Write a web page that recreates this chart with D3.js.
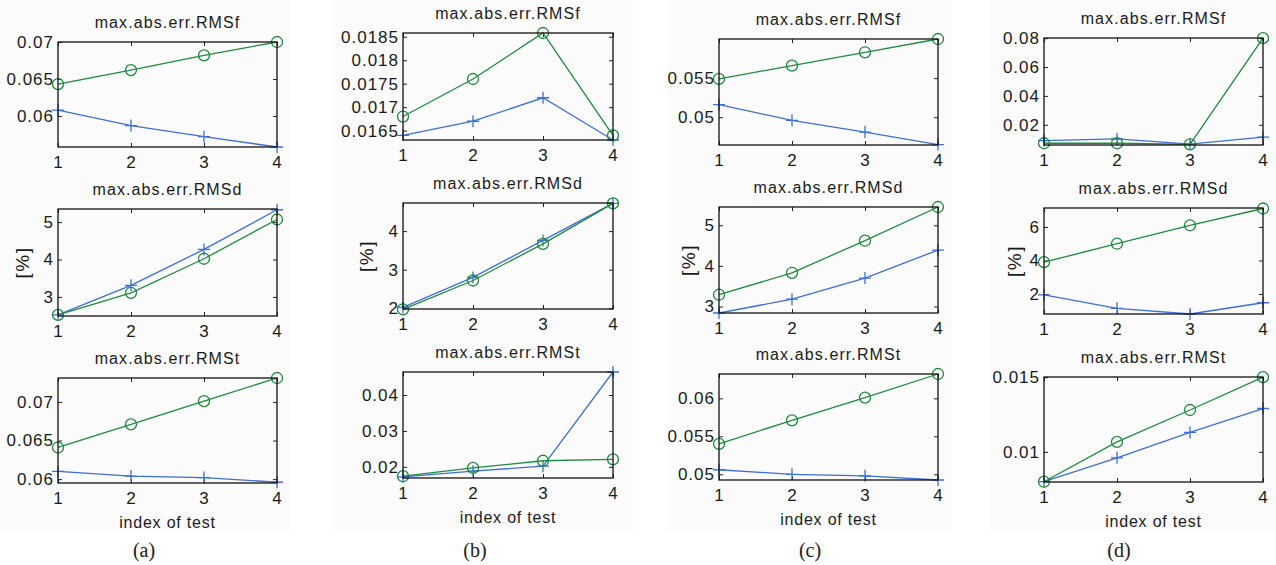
<!DOCTYPE html>
<html>
<head>
<meta charset="utf-8">
<script src="https://cdn.jsdelivr.net/npm/d3@7"></script>
<style>
  body { margin: 0; background: #fff; }
  text { font-family: "Liberation Sans", Arial, sans-serif; fill: #1a1a1a; }
</style>
</head>
<body>
<svg id="chart" width="1276" height="565"></svg>
<script>
// ---- data ----
const testIndex = [1, 2, 3, 4];
const captions = ["(a)", "(b)", "(c)", "(d)"];
const rowTitles = ["max.abs.err.RMSf", "max.abs.err.RMSd", "max.abs.err.RMSt"];
const rowYLabels = ["", "[%]", ""];

// blue "+" series and green "o" series, one row per subplot (RMSf, RMSd, RMSt)
const aBlue  = [[0.0608, 0.0587, 0.0572, 0.0558], [2.52, 3.31, 4.27, 5.33], [0.0610, 0.0604, 0.0602, 0.0596]];
const aGreen = [[0.0643, 0.0662, 0.0682, 0.0700], [2.52, 3.11, 4.02, 5.07], [0.0641, 0.0671, 0.0701, 0.0731]];
const bBlue  = [[0.0164, 0.0167, 0.0172, 0.0163], [2.02, 2.80, 3.76, 4.72], [0.0172, 0.0188, 0.0202, 0.0464]];
const bGreen = [[0.0168, 0.0176, 0.01858, 0.0164], [1.97, 2.72, 3.67, 4.72], [0.0174, 0.0197, 0.0217, 0.0221]];
const cBlue  = [[0.0516, 0.0496, 0.0481, 0.0465], [2.84, 3.18, 3.70, 4.39], [0.0506, 0.0500, 0.0498, 0.04925]];
const cGreen = [[0.0549, 0.0566, 0.0583, 0.0600], [3.29, 3.83, 4.62, 5.45], [0.0540, 0.0571, 0.0601, 0.0632]];
const dBlue  = [[0.0090, 0.0103, 0.0066, 0.0114], [1.95, 1.15, 0.81, 1.48], [0.0080, 0.0096, 0.0113, 0.0129]];
const dGreen = [[0.0072, 0.0072, 0.0065, 0.0800], [3.9, 5.0, 6.1, 7.1], [0.0080, 0.01067, 0.0128, 0.0150]];

// y tick labels per subplot
const aTicks = [["0.06", "0.065", "0.07"], ["3", "4", "5"], ["0.06", "0.065", "0.07"]];
const bTicks = [["0.0165", "0.017", "0.0175", "0.018", "0.0185"], ["2", "3", "4"], ["0.02", "0.03", "0.04"]];
const cTicks = [["0.05", "0.055"], ["3", "4", "5"], ["0.05", "0.055", "0.06"]];
const dTicks = [["0.02", "0.04", "0.06", "0.08"], ["2", "4", "6"], ["0.01", "0.015"]];

// y axis limits per subplot
const aLimits = [[0.0558, 0.0700], [2.49, 5.35], [0.0595, 0.0731]];
const bLimits = [[0.0163, 0.01858], [1.98, 4.73], [0.0169, 0.0464]];
const cLimits = [[0.04645, 0.0600], [2.84, 5.45], [0.04925, 0.0632]];
const dLimits = [[0.006, 0.0801], [0.81, 7.13], [0.00798, 0.01501]];

// ---- layout ----
const colBoxes = [[58, 277], [403, 613], [719, 938], [1044, 1263]];
const rowBoxes = [
  [[42, 147], [209, 316], [378, 483]],
  [[33, 140], [203, 309], [372, 478]],
  [[39, 145], [207, 313], [374, 480]],
  [[38, 145], [208, 314], [377, 482]]
];
const yLabelX = [22, 366, 688, 1014];
const captionX = [144, 475, 810, 1119];
const panelBg = [[0, 290], [333, 633], [668, 952], [990, 1276]];

const blue = "#3d6fd6";
const green = "#1f8a3d";

const columns = [
  { blue: aBlue, green: aGreen, ticks: aTicks, limits: aLimits },
  { blue: bBlue, green: bGreen, ticks: bTicks, limits: bLimits },
  { blue: cBlue, green: cGreen, ticks: cTicks, limits: cLimits },
  { blue: dBlue, green: dGreen, ticks: dTicks, limits: dLimits }
];

const svg = d3.select("#chart");

// very light panel backgrounds behind each column
svg.selectAll("rect.bg")
  .data(panelBg)
  .enter()
  .append("rect")
  .attr("x", d => d[0])
  .attr("y", 0)
  .attr("width", d => d[1] - d[0])
  .attr("height", 532)
  .attr("fill", "#fbfbfb");

columns.forEach((col, ci) => {
  const [left, right] = colBoxes[ci];

  rowTitles.forEach((title, ri) => {
    const [top, bottom] = rowBoxes[ci][ri];
    const g = svg.append("g");

    const x = d3.scaleLinear().domain([1, 4]).range([left, right]);
    const y = d3.scaleLinear().domain(col.limits[ri]).range([bottom, top]);
    const tickVals = col.ticks[ri].map(Number);

    // axes with inward ticks on all four sides
    g.append("g")
      .attr("transform", "translate(0," + bottom + ")")
      .call(d3.axisBottom(x).tickValues(testIndex).tickSize(-4).tickPadding(9).tickFormat(d3.format("d")));
    g.append("g")
      .attr("transform", "translate(0," + top + ")")
      .call(d3.axisTop(x).tickValues(testIndex).tickSize(-4).tickFormat(""));
    g.append("g")
      .attr("transform", "translate(" + left + ",0)")
      .call(d3.axisLeft(y).tickValues(tickVals).tickSize(-4).tickPadding(4)
        .tickFormat((d, i) => col.ticks[ri][i]));
    g.append("g")
      .attr("transform", "translate(" + right + ",0)")
      .call(d3.axisRight(y).tickValues(tickVals).tickSize(-4).tickFormat(""));

    g.selectAll(".domain").remove();
    g.selectAll(".tick line").attr("stroke", "#222");
    g.selectAll(".tick text")
      .style("font-family", "'Liberation Sans', Arial, sans-serif")
      .style("font-size", "17px")
      .style("letter-spacing", "1px")
      .attr("fill", "#1a1a1a");

    // series: blue "+" first, then green "o"
    const line = d3.line().x((d, i) => x(testIndex[i])).y(d => y(d));

    g.append("path")
      .datum(col.blue[ri])
      .attr("d", line)
      .attr("fill", "none")
      .attr("stroke", blue)
      .attr("stroke-width", 1.3);

    g.selectAll("path.plus")
      .data(col.blue[ri])
      .enter()
      .append("path")
      .attr("class", "plus")
      .attr("transform", (d, i) => "translate(" + x(testIndex[i]) + "," + y(d) + ")")
      .attr("d", "M-6,0H6M0,-6V6")
      .attr("stroke", blue)
      .attr("stroke-width", 1.3);

    g.append("path")
      .datum(col.green[ri])
      .attr("d", line)
      .attr("fill", "none")
      .attr("stroke", green)
      .attr("stroke-width", 1.3);

    g.selectAll("circle.ring")
      .data(col.green[ri])
      .enter()
      .append("circle")
      .attr("class", "ring")
      .attr("cx", (d, i) => x(testIndex[i]))
      .attr("cy", d => y(d))
      .attr("r", 5.5)
      .attr("fill", "none")
      .attr("stroke", green)
      .attr("stroke-width", 1.3);

    // axes box
    g.append("rect")
      .attr("x", left)
      .attr("y", top)
      .attr("width", right - left)
      .attr("height", bottom - top)
      .attr("fill", "none")
      .attr("stroke", "#111")
      .attr("stroke-width", 1.3);

    // title
    g.append("text")
      .attr("x", (left + right) / 2)
      .attr("y", top - 14)
      .attr("text-anchor", "middle")
      .style("font-size", "16px")
      .style("letter-spacing", "1.1px")
      .text(title);

    // y label
    if (rowYLabels[ri]) {
      g.append("text")
        .attr("transform", "translate(" + yLabelX[ci] + "," + (top + bottom) / 2 + ") rotate(-90)")
        .attr("text-anchor", "middle")
        .attr("dy", "0.35em")
        .style("font-size", "19px")
        .style("letter-spacing", "1.5px")
        .text(rowYLabels[ri]);
    }

    // x label on the bottom row
    if (ri === 2) {
      g.append("text")
        .attr("x", (left + right) / 2)
        .attr("y", bottom + 45)
        .attr("text-anchor", "middle")
        .style("font-size", "16px")
        .style("letter-spacing", "0.8px")
        .text("index of test");
    }
  });

  // caption
  svg.append("text")
    .attr("x", captionX[ci])
    .attr("y", 557)
    .attr("text-anchor", "middle")
    .style("font-family", "'Liberation Serif', 'Times New Roman', serif")
    .style("font-size", "20px")
    .text(captions[ci]);
});
</script>
</body>
</html>
